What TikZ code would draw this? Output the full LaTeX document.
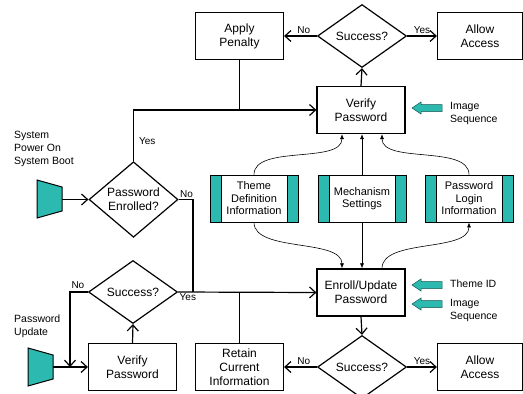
\documentclass[tikz,border=0pt]{standalone}
\usepackage{fontspec}
\setmainfont{Liberation Sans}
\usepackage{tikz}
\usetikzlibrary{shapes.geometric,arrows.meta}

\definecolor{aqua}{RGB}{44,186,176}

\newcommand{\tealarrow}[1]{\filldraw[fill=aqua,draw=aqua!45!black,line width=0.5pt] (#1) ++(-15,0) -- ++(9,6) -- ++(0,-2.5) -- ++(21,0) -- ++(0,-7) -- ++(-21,0) -- ++(0,-2.5) -- cycle ;}

\begin{document}
\begin{tikzpicture}[x=1pt,y=-1pt,
  box/.style={draw,line width=1.2pt,minimum width=88pt,minimum height=47pt,inner sep=1pt,align=center,font=\fontsize{12}{14}\selectfont},
  decide/.style={diamond,draw,line width=1.2pt,minimum width=89pt,minimum height=63pt,inner sep=0pt,align=center,font=\fontsize{12}{14}\selectfont},
  store/.style={draw,line width=0.8pt,minimum width=88pt,minimum height=47pt,inner sep=1pt,align=center,font=\fontsize{11}{12.5}\selectfont,
    path picture={
      \filldraw[fill=aqua,draw=black,line width=0.8pt] (path picture bounding box.south west) rectangle ([xshift=11pt]path picture bounding box.north west) ;
      \filldraw[fill=aqua,draw=black,line width=0.8pt] (path picture bounding box.south east) rectangle ([xshift=-11pt]path picture bounding box.north east) ;}},
  lbl/.style={font=\fontsize{10}{12}\selectfont,inner sep=2pt},
  side/.style={font=\fontsize{10.5}{13}\selectfont,align=left,inner sep=0pt},
  flow/.style={line width=1.2pt,-{Straight Barb[length=6pt,width=11pt]}},
  feed/.style={line width=0.6pt,-{Latex[length=5pt,width=4pt]}}]
\useasboundingbox (0,0) rectangle (523,394) ;

% verification branch
\node[box] (pen) at (239.5,36) {Apply\\Penalty} ;
\node[decide] (ok1) at (362,36) {Success?} ;
\node[box,minimum width=85pt] (acc1) at (480,36) {Allow\\Access} ;
\node[box] (ver1) at (361,110) {Verify\\Password} ;

% stored data
\node[store] (theme) at (254,198.5) {Theme\\Definition\\Information} ;
\node[store] (mech) at (362,198.5) {Mechanism\\Settings} ;
\node[store] (login) at (469,198.5) {Password\\Login\\Information} ;

% enrolment branch
\node[decide] (enrolled) at (133.5,199.5) {Password\\Enrolled?} ;
\node[decide] (ok3) at (133,292) {Success?} ;
\node[box] (enr) at (361,292.5) {Enroll/Update\\Password} ;
\node[box] (ver2) at (132.5,367) {Verify\\Password} ;
\node[box] (ret) at (239.5,367) {Retain\\Current\\Information} ;
\node[decide] (ok4) at (362,367) {Success?} ;
\node[box,minimum width=85pt] (acc2) at (480,367) {Allow\\Access} ;

% inputs
\filldraw[fill=aqua,line width=1pt] (37,180) -- (62,187) -- (62,211) -- (37,218) -- cycle ;
\coordinate (boot) at (62,199.5) ;
\node[side,anchor=north west] (bootlbl) at (14,131) {System\\Power On\\System Boot} ;

\filldraw[fill=aqua,line width=1pt] (28,348) -- (53,355) -- (53,379) -- (28,386) -- cycle ;
\coordinate (upd) at (53,367) ;
\node[side,anchor=north west] (updlbl) at (14,315) {Password\\Update} ;

\tealarrow{427,108}
\node[side,anchor=west] (seq1) at (450,113.5) {Image\\Sequence} ;
\tealarrow{427,285}
\node[side,anchor=west] (tid) at (450,284) {Theme ID} ;
\tealarrow{427,304}
\node[side,anchor=west] (seq2) at (450,310.5) {Image\\Sequence} ;

% connectors
\draw[flow] (ok1.west) -- node[lbl,above,pos=0.4] {No} (pen.east) ;
\draw[flow] (ok1.east) -- node[lbl,above] {Yes} (acc1.west) ;
\draw[flow] (ver1.north) -- (ok1.south) ;
\draw[flow] (boot) -- (enrolled.west) ;
\draw[flow] (enrolled.north) |- node[lbl,pos=0.2,right=3pt] {Yes} (ver1.west) ;
\draw[line width=1.2pt] (pen.south) -- (pen.south |- ver1.west) ;

\coordinate (j1) at (193,292) ;
\draw[line width=1.2pt] (enrolled.east) node[lbl,above right,inner sep=1pt] {No} -| (j1) ;
\draw[flow] (ok3.east) node[lbl,below right,inner sep=1pt] {Yes} -- (enr.west) ;
\draw[line width=1.2pt] (ret.north) -- (ret.north |- enr.west) ;

\coordinate (j2) at (70,367) ;
\draw[flow] (ok3.west) node[lbl,above left,inner sep=3pt] {No} -| (j2) ;
\draw[flow] (upd) -- (ver2.west) ;
\draw[flow] (ver2.north) -- (ok3.south) ;

\draw[flow] (enr.south) -- (ok4.north) ;
\draw[flow] (ok4.west) -- node[lbl,above,pos=0.4] {No} (ret.east) ;
\draw[flow] (ok4.east) -- node[lbl,above] {Yes} (acc2.west) ;

% data feeds
\draw[feed] (theme.north) .. controls +(0,-30) and +(0,30) .. ([xshift=-19pt]ver1.south) ;
\draw[feed] (mech.north) -- (mech.north |- ver1.south) ;
\draw[feed] (login.north) .. controls +(0,-30) and +(0,30) .. ([xshift=21pt]ver1.south) ;
\draw[feed] (theme.south) .. controls +(0,30) and +(0,-30) .. ([xshift=-19pt]enr.north) ;
\draw[feed] (mech.south) -- (mech.south |- enr.north) ;
\draw[feed] ([xshift=21pt]enr.north) .. controls +(0,-30) and +(0,30) .. (login.south) ;

\end{tikzpicture}
\end{document}
